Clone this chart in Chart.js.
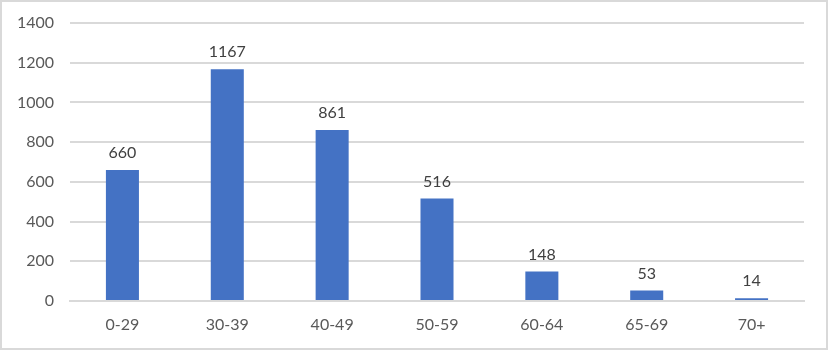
<!DOCTYPE html>
<html>
<head>
<meta charset="utf-8">
<script src="https://cdn.jsdelivr.net/npm/chart.js@4/dist/chart.umd.min.js"></script>
<style>
  html, body { margin: 0; padding: 0; background: #fff; }
  .chart-box { width: 828px; height: 350px; box-sizing: border-box; border: 2px solid #d9d9d9; position: relative; }
</style>
</head>
<body>
<div class="chart-box"><canvas id="ageChart"></canvas></div>
<script>
var ageGroups = ['0-29', '30-39', '40-49', '50-59', '60-64', '65-69', '70+'];
var counts = [660, 1167, 861, 516, 148, 53, 14];
var yTicks = [0, 200, 400, 600, 800, 1000, 1200, 1400];

var fontFamily = 'Lato, "Open Sans", sans-serif';

// simple value labels above each bar
var barLabels = {
  id: 'barLabels',
  afterDatasetsDraw: function(chart) {
    var ctx = chart.ctx;
    var meta = chart.getDatasetMeta(0);
    ctx.save();
    ctx.fillStyle = '#404040';
    ctx.font = '16px ' + fontFamily;
    ctx.textAlign = 'center';
    ctx.textBaseline = 'bottom';
    meta.data.forEach(function(bar, i) {
      ctx.fillText(String(counts[i]), bar.x, bar.y - 9);
    });
    ctx.restore();
  }
};

var ctx = document.getElementById('ageChart').getContext('2d');
var chart = new Chart(ctx, {
  type: 'bar',
  data: {
    labels: ageGroups,
    datasets: [{
      data: counts,
      backgroundColor: '#4472c4',
      categoryPercentage: 1,
      barPercentage: 0.315
    }]
  },
  options: {
    responsive: true,
    maintainAspectRatio: false,
    animation: false,
    layout: { padding: { left: 0, right: 22, top: 21, bottom: 0 } },
    plugins: {
      legend: { display: false },
      tooltip: { enabled: false }
    },
    scales: {
      x: {
        grid: { display: false, drawTicks: false },
        border: { color: '#d9d9d9', width: 2 },
        ticks: { color: '#595959', font: { family: fontFamily, size: 16 }, padding: 14 },
        afterFit: function(scale) { scale.height = 47; }
      },
      y: {
        min: 0,
        max: 1400,
        afterBuildTicks: function(scale) {
          scale.ticks = yTicks.map(function(v) { return { value: v }; });
        },
        grid: { color: '#d9d9d9', lineWidth: 2, drawTicks: false },
        border: { display: false },
        ticks: {
          color: '#595959',
          font: { family: fontFamily, size: 16 },
          padding: 16,
          callback: function(v) { return String(v); }
        },
        afterFit: function(scale) {
          scale.width = 68;
          scale.paddingTop = 0;
          scale.paddingBottom = 0;
        }
      }
    }
  },
  plugins: [barLabels]
});
</script>
</body>
</html>
